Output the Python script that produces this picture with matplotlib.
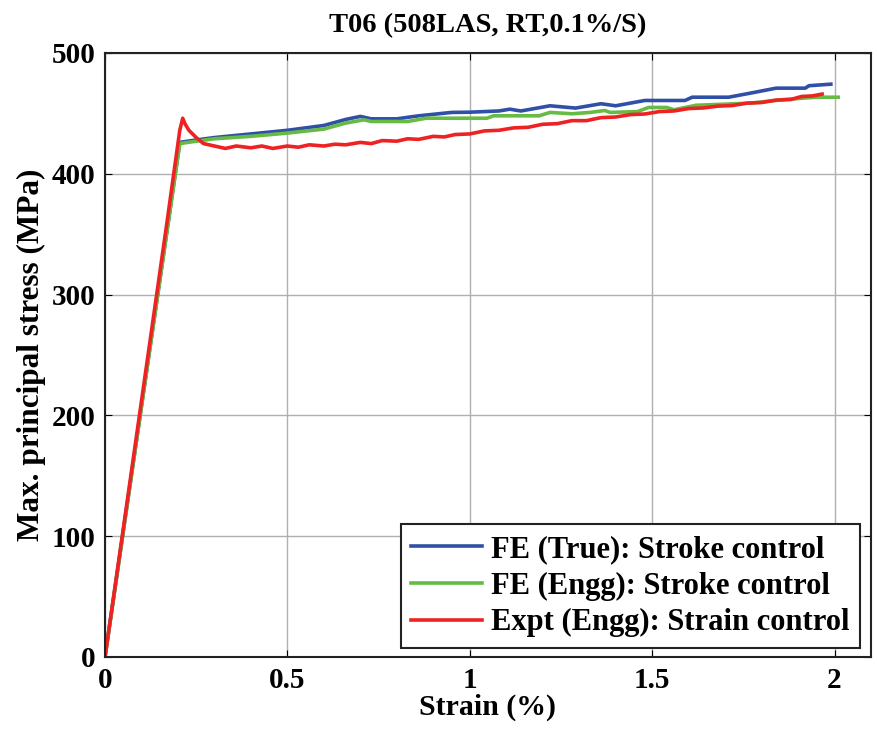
import matplotlib
matplotlib.use('Agg')
import matplotlib.pyplot as plt

# FE (True): Stroke control
true_strain = [0, 0.205, 0.25, 0.30, 0.40, 0.50, 0.60, 0.66, 0.70, 0.73, 0.80, 0.86, 0.95, 1.00,
               1.08, 1.11, 1.14, 1.22, 1.29, 1.36, 1.40, 1.48, 1.59, 1.61, 1.71, 1.77, 1.84,
               1.92, 1.93, 1.99]
true_stress = [0, 426, 428, 430, 433, 436, 440, 445, 447.5, 445.5, 445.5, 448, 450.8, 451,
               452, 453.5, 452, 456.3, 454.4, 458, 456.3, 460.7, 460.7, 463.4, 463.4, 466.8, 470.9,
               470.9, 472.9, 474.2]

# FE (Engg): Stroke control
engg_strain = [0, 0.205, 0.25, 0.30, 0.40, 0.50, 0.60, 0.66, 0.71, 0.73, 0.83, 0.88, 1.00,
               1.047, 1.065, 1.19, 1.22, 1.28, 1.33, 1.37, 1.385, 1.46, 1.49, 1.54, 1.56, 1.62,
               1.77, 1.86, 1.95, 2.01]
engg_stress = [0, 425, 427, 429, 431, 433.7, 437, 442, 444.7, 443.3, 443.3, 446, 446,
               446, 448, 448, 450.8, 449.7, 450.8, 452.4, 450.8, 451.5, 454.9, 454.9, 453, 456.7,
               458.5, 461.4, 463.4, 463.4]

# Expt (Engg): Strain control
expt_strain = [0, 0.10, 0.17, 0.205, 0.213, 0.22, 0.23, 0.25, 0.27, 0.30, 0.33, 0.36, 0.40,
               0.43, 0.46, 0.50, 0.53, 0.56, 0.60, 0.63, 0.66, 0.70, 0.73, 0.76, 0.80, 0.83,
               0.86, 0.90, 0.93, 0.96, 1.00, 1.04, 1.08, 1.12, 1.16, 1.20, 1.24, 1.28, 1.32,
               1.36, 1.40, 1.44, 1.48, 1.52, 1.56, 1.60, 1.64, 1.68, 1.72, 1.76, 1.80, 1.84,
               1.88, 1.91, 1.94, 1.966]
expt_stress = [0, 212, 360, 436, 446, 441, 436, 430, 425, 423, 421, 423, 421.5,
               423, 421, 423, 422, 424, 423, 424.5, 424, 426, 425, 427.5, 427, 429,
               428.5, 431, 430.5, 432.5, 433, 435.5, 436, 438, 438.5, 441, 441.5, 444, 444,
               446.5, 447, 449, 449.5, 451.5, 452, 454, 454.5, 456, 456.5, 458.5, 459, 461,
               461.5, 464, 464.5, 466]

xticks = [0, 0.5, 1, 1.5, 2]
xtick_labels = ['0', '0.5', '1', '1.5', '2']
yticks = [0, 100, 200, 300, 400, 500]

plt.rcParams['font.family'] = ['Liberation Serif', 'DejaVu Serif']
plt.rcParams['font.weight'] = 'bold'

fig = plt.figure(figsize=(8.78, 7.33), dpi=100)
ax = fig.add_axes([0.1196, 0.1037, 0.8724, 0.824])

ax.plot(true_strain, true_stress, color='#3050a8', lw=2.6, label='FE (True): Stroke control')
ax.plot(engg_strain, engg_stress, color='#66bb44', lw=2.6, label='FE (Engg): Stroke control')
ax.plot(expt_strain, expt_stress, color='#ee2222', lw=2.6, label='Expt (Engg): Strain control')

ax.set_xlim(0, 2.1)
ax.set_ylim(0, 500)
ax.set_xticks(xticks)
ax.set_xticklabels(xtick_labels)
ax.set_yticks(yticks)
ax.grid(True, color='#b0b0b0', lw=1)
ax.tick_params(direction='in', top=True, right=True, length=5, labelsize=21, pad=7)
for lab in ax.get_xticklabels() + ax.get_yticklabels():
    lab.set_fontweight('bold')
for s in ax.spines.values():
    s.set_linewidth(1.5)
    s.set_color('#222222')

ax.set_xlabel('Strain (%)', fontsize=21.5, fontweight='bold', labelpad=0)
ax.set_ylabel('Max. principal stress (MPa)', fontsize=22.5, fontweight='bold', labelpad=4)
ax.set_title('T06 (508LAS, RT,0.1%/S)', fontsize=20.5, fontweight='bold', pad=15)

leg = ax.legend(loc='lower right', bbox_to_anchor=(0.9856, 0.015), fontsize=22,
                fancybox=False, framealpha=1, edgecolor='#222222', handlelength=2.3,
                borderpad=0.35, labelspacing=0.25, handletextpad=0.3, borderaxespad=0)
leg.get_frame().set_linewidth(1.5)
for t in leg.get_texts():
    t.set_fontweight('bold')

fig.savefig('out.png', dpi=100)
